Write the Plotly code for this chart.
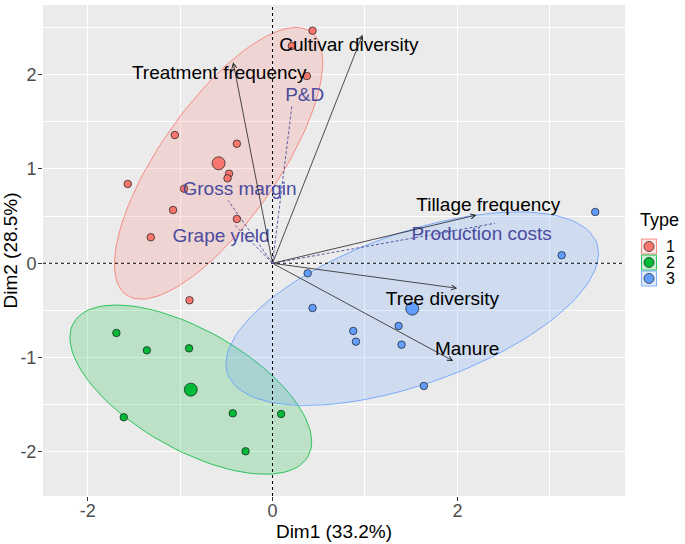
import numpy as np
import plotly.graph_objects as go

# ---- data -------------------------------------------------------------
group_names = ["1", "2", "3"]
group_colors = ["#F8766D", "#00BA38", "#619CFF"]

type1_x = [0.433, 0.209, 0.372, -1.057, -0.386, -0.470, -0.487, -1.566, -0.957, -1.076, -0.386, -1.317, -0.898]
type1_y = [2.467, 2.304, 1.986, 1.360, 1.268, 0.950, 0.901, 0.841, 0.791, 0.565, 0.470, 0.276, -0.392]
type2_x = [-1.689, -1.360, -0.903, -1.609, -0.430, 0.093, -0.292]
type2_y = [-0.739, -0.923, -0.902, -1.633, -1.591, -1.598, -1.994]
type3_x = [0.380, 0.433, 0.873, 0.902, 1.364, 1.396, 1.637, 3.491, 3.128]
type3_y = [-0.106, -0.474, -0.718, -0.831, -0.665, -0.863, -1.301, 0.544, 0.085]

active_vars = ["Treatment frequency", "Cultivar diversity", "Tillage frequency", "Tree diversity", "Manure"]
active_x = [-0.426, 0.974, 2.207, 1.998, 1.955]
active_y = [2.131, 2.424, 0.512, -0.265, -1.036]
active_lab_x = [-0.576, 0.826, 2.334, 1.838, 2.105]
active_lab_y = [2.007, 2.297, 0.600, -0.389, -0.927]

sup_vars = ["P&D", "Gross margin", "Grape yield", "Production costs"]
sup_x = [0.209, -0.480, -0.408, 2.406]
sup_y = [1.668, 0.665, 0.406, 0.424]
sup_lab_x = [0.348, -0.357, -0.557, 2.262]
sup_lab_y = [1.767, 0.777, 0.276, 0.293]

x_tickvals = [-2, 0, 2]
x_ticktext = ["-2", "0", "2"]
y_tickvals = [-2, -1, 0, 1, 2]
y_ticktext = ["-2", "-1", "0", "1", "2"]
x_range = [-2.483, 3.813]
y_range = [-2.468, 2.739]

ELLIPSE_LEVEL = 0.75

# -----------------------------------------------------------------------
FONT = "Arial, Liberation Sans, sans-serif"
SUP_COL = "#4B4B9E"
W, H = 685, 544
ML, MR, MT, MB = 43, 60, 5, 48
PW, PH = W - ML - MR, H - MT - MB


def norm_ellipse(xs, ys, level, npts=101):
    # same construction as ggplot2::stat_ellipse(type = "norm")
    pts = np.column_stack([xs, ys]).astype(float)
    n = len(pts)
    c = pts.mean(axis=0)
    cov = np.cov(pts.T)
    L = np.linalg.cholesky(cov)
    d2 = n - 1
    fq = d2 / 2 * ((1 - level) ** (-2 / d2) - 1)  # F(2, d2) quantile
    r = np.sqrt(2 * fq)
    t = np.linspace(0, 2 * np.pi, npts)
    circ = np.column_stack([np.cos(t), np.sin(t)])
    e = c + r * (circ @ L.T)
    return e[:, 0], e[:, 1]


def rgba(hexc, a):
    h = hexc.lstrip("#")
    return f"rgba({int(h[0:2],16)},{int(h[2:4],16)},{int(h[4:6],16)},{a})"


def px_x(px):
    return (px - ML) / PW


def px_y(py):
    return (H - MB - py) / PH


groups = [(type1_x, type1_y), (type2_x, type2_y), (type3_x, type3_y)]

fig = go.Figure()

# ellipses
for (gx, gy), col in zip(groups, group_colors):
    ex, ey = norm_ellipse(gx, gy, ELLIPSE_LEVEL)
    fig.add_trace(go.Scatter(x=ex, y=ey, mode="lines", fill="toself",
                             fillcolor=rgba(col, 0.2),
                             line=dict(color=col, width=0.8),
                             hoverinfo="skip", showlegend=False))

# dashed reference lines at 0
fig.add_trace(go.Scatter(x=[0, 0], y=y_range, mode="lines",
                         line=dict(color="black", width=1, dash="3px,3px"),
                         hoverinfo="skip", showlegend=False))
fig.add_trace(go.Scatter(x=x_range, y=[0, 0], mode="lines",
                         line=dict(color="black", width=1, dash="3px,3px"),
                         hoverinfo="skip", showlegend=False))

# dashed supplementary variable lines
for vx, vy in zip(sup_x, sup_y):
    fig.add_trace(go.Scatter(x=[0, vx], y=[0, vy], mode="lines",
                             line=dict(color=SUP_COL, width=0.9, dash="3px,2px"),
                             hoverinfo="skip", showlegend=False))

# individual points
for (gx, gy), col in zip(groups, group_colors):
    fig.add_trace(go.Scatter(x=gx, y=gy, mode="markers",
                             marker=dict(size=7.5, color=col,
                                         line=dict(color="#1a1a1a", width=0.7)),
                             showlegend=False))
# group means
for (gx, gy), col in zip(groups, group_colors):
    fig.add_trace(go.Scatter(x=[np.mean(gx)], y=[np.mean(gy)], mode="markers",
                             marker=dict(size=13, color=col,
                                         line=dict(color="#1a1a1a", width=0.7)),
                             showlegend=False))

# labels
fig.add_trace(go.Scatter(x=active_lab_x, y=active_lab_y, text=active_vars, mode="text",
                         textfont=dict(family=FONT, size=19, color="black"),
                         hoverinfo="skip", showlegend=False))
fig.add_trace(go.Scatter(x=sup_lab_x, y=sup_lab_y, text=sup_vars, mode="text",
                         textfont=dict(family=FONT, size=19, color=SUP_COL),
                         hoverinfo="skip", showlegend=False))

annotations = []
for vx, vy in zip(active_x, active_y):
    annotations.append(dict(x=vx, y=vy, ax=0, ay=0, xref="x", yref="y",
                            axref="x", ayref="y", text="", showarrow=True,
                            arrowhead=5, arrowsize=1.2, arrowwidth=0.8,
                            arrowcolor="#222222"))
for vx, vy in zip(sup_x, sup_y):
    annotations.append(dict(x=vx, y=vy, ax=vx * 0.985, ay=vy * 0.985, xref="x", yref="y",
                            axref="x", ayref="y", text="", showarrow=True,
                            arrowhead=5, arrowsize=1.2, arrowwidth=0.8,
                            arrowcolor=SUP_COL))

shapes = []

# custom legend (ggplot-style keys)
annotations.append(dict(text="Type", xref="paper", yref="paper", x=px_x(638), y=px_y(220),
                        xanchor="left", yanchor="middle", showarrow=False,
                        font=dict(family=FONT, size=18, color="black")))
key_cy = [246.5, 262.5, 278.5]
for name, col, cy in zip(group_names, group_colors, key_cy):
    shapes.append(dict(type="rect", xref="paper", yref="paper",
                       x0=px_x(641.5), x1=px_x(656.5), y0=px_y(cy - 7.5), y1=px_y(cy + 7.5),
                       fillcolor=rgba(col, 0.2), line=dict(color=col, width=0.8)))
    shapes.append(dict(type="circle", xref="paper", yref="paper",
                       xsizemode="pixel", ysizemode="pixel",
                       xanchor=px_x(649), yanchor=px_y(cy),
                       x0=-5, x1=5, y0=-5, y1=5,
                       fillcolor=col, line=dict(color="#1a1a1a", width=0.7)))
    annotations.append(dict(text=name, xref="paper", yref="paper", x=px_x(665), y=px_y(cy),
                            xanchor="left", yanchor="middle", showarrow=False,
                            borderpad=0,
                            font=dict(family=FONT, size=16, color="black")))

fig.update_layout(
    width=W, height=H,
    margin=dict(l=ML, r=MR, t=MT, b=MB, autoexpand=False),
    paper_bgcolor="white", plot_bgcolor="#EBEBEB",
    font=dict(family=FONT, size=19, color="black"),
    shapes=shapes, annotations=annotations,
    showlegend=False,
)
fig.update_xaxes(range=x_range, tickvals=x_tickvals, ticktext=x_ticktext,
                 showgrid=True, gridcolor="white", gridwidth=1.3, zeroline=False,
                 ticks="outside", ticklen=4, tickcolor="#333333", tickwidth=1,
                 tickfont=dict(size=18, color="#4D4D4D"), ticklabelstandoff=-6,
                 minor=dict(dtick=1, tick0=1, showgrid=True, gridcolor="white", gridwidth=0.6),
                 title=dict(text="Dim1 (33.2%)", font=dict(size=19), standoff=0),
                 showline=False, automargin=False)
fig.update_yaxes(range=y_range, tickvals=y_tickvals, ticktext=y_ticktext,
                 showgrid=True, gridcolor="white", gridwidth=1.3, zeroline=False,
                 ticks="outside", ticklen=4, tickcolor="#333333", tickwidth=1,
                 tickfont=dict(size=18, color="#4D4D4D"), ticklabelstandoff=-2,
                 minor=dict(dtick=0.5, tick0=0.5, showgrid=True, gridcolor="white", gridwidth=0.6),
                 title=dict(text="Dim2 (28.5%)", font=dict(size=19), standoff=0),
                 showline=False, automargin=False)

fig.write_html("out.html", config={"displayModeBar": False},
               post_script="document.body.style.margin='0px';")
